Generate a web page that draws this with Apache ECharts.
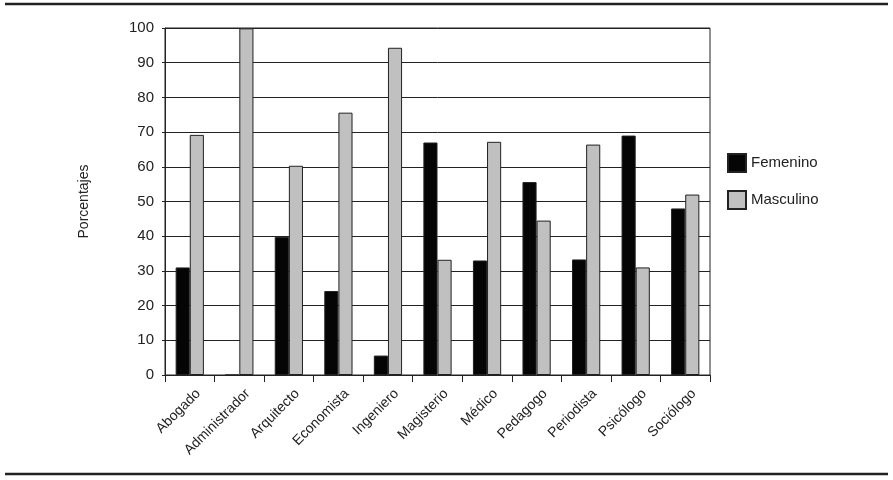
<!DOCTYPE html>
<html>
<head>
<meta charset="utf-8">
<script src="https://cdn.jsdelivr.net/npm/echarts@6/dist/echarts.min.js"></script>
<style>
  html, body { margin: 0; padding: 0; background: #fff; }
  #chart { width: 893px; height: 480px; }
</style>
</head>
<body>
<div id="chart"></div>
<script>
var categories = ['Abogado', 'Administrador', 'Arquitecto', 'Economista', 'Ingeniero',
  'Magisterio', 'Médico', 'Pedagogo', 'Periodista', 'Psicólogo', 'Sociólogo']
var femenino = [31, 0, 39.8, 24.2, 5.6, 67, 33, 55.6, 33.3, 69, 48]
var masculino = [69.2, 99.9, 60.3, 75.6, 94.3, 33.2, 67.2, 44.5, 66.4, 31, 52]
var yTicks = { min: 0, max: 100, interval: 10 }

var ink = '#222'
var font = 'Liberation Sans, Arial, sans-serif'

var chart = echarts.init(document.getElementById('chart'))
chart.setOption({
  animation: false,
  textStyle: { fontFamily: font },
  grid: {
    left: 165,
    right: 183,
    top: 28,
    bottom: 105,
    show: true,
    borderColor: ink,
    borderWidth: 1
  },
  legend: {
    orient: 'vertical',
    left: 727,
    top: 153,
    padding: 0,
    itemWidth: 18,
    itemHeight: 18,
    itemGap: 17,
    icon: 'rect',
    textStyle: { fontSize: 15, color: ink, fontFamily: font },
    data: ['Femenino', 'Masculino']
  },
  xAxis: {
    type: 'category',
    data: categories,
    axisLine: { lineStyle: { color: ink, width: 1 } },
    axisTick: { show: true, length: 7, lineStyle: { color: ink } },
    axisLabel: {
      rotate: 45, fontSize: 14, color: ink, margin: 8, interval: 0, fontFamily: font,
      verticalAlign: 'top', padding: [5, 0, 0, 0]
    }
  },
  yAxis: {
    type: 'value',
    min: yTicks.min,
    max: yTicks.max,
    interval: yTicks.interval,
    name: 'Porcentajes',
    nameLocation: 'middle',
    nameRotate: 90,
    nameGap: 74,
    nameTextStyle: { fontSize: 14, color: ink, fontFamily: font },
    axisLine: { show: true, lineStyle: { color: ink, width: 1 } },
    axisTick: { show: true, length: 3, lineStyle: { color: ink } },
    axisLabel: { fontSize: 15, color: ink, margin: 11, fontFamily: font },
    splitLine: { lineStyle: { color: ink, width: 1 } }
  },
  series: [
    {
      name: 'Femenino',
      type: 'bar',
      data: femenino,
      barGap: '0%',
      barCategoryGap: '43%',
      itemStyle: { color: '#050505', borderColor: ink, borderWidth: 1 }
    },
    {
      name: 'Masculino',
      type: 'bar',
      data: masculino,
      barGap: '0%',
      barCategoryGap: '43%',
      itemStyle: { color: '#c0c0c0', borderColor: ink, borderWidth: 1 }
    }
  ],
  graphic: [
    { type: 'line', shape: { x1: 5, y1: 4, x2: 888, y2: 4 }, style: { stroke: ink, lineWidth: 2.5 } },
    { type: 'line', shape: { x1: 5, y1: 474, x2: 888, y2: 474 }, style: { stroke: ink, lineWidth: 2.5 } }
  ]
})
</script>
</body>
</html>
